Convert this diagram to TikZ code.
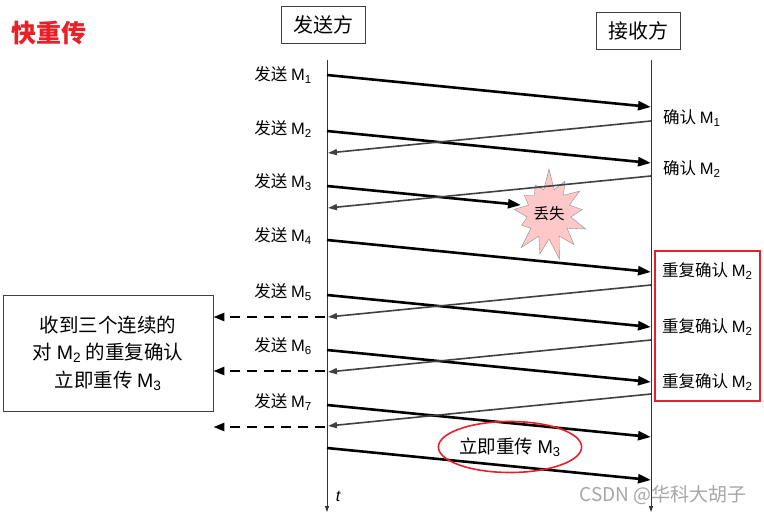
\documentclass[tikz,border=0pt]{standalone}
\usepackage{fontspec}
\setmainfont{Noto Sans CJK SC}
\newfontfamily\arial{Liberation Sans}
\usetikzlibrary{arrows.meta,shapes.geometric,shapes.symbols}
\definecolor{alarm}{HTML}{E8202A}
\definecolor{lostpink}{HTML}{FFC8C8}
\newcommand{\msg}[1]{{\arial M\textsubscript{#1}}}

\begin{document}
\begin{tikzpicture}[x=1pt, y=-1pt,
  party/.style={draw=black!75, thick, minimum width=84pt, minimum height=37pt, font=\fontsize{20}{24}\selectfont},
  life/.style={black!80, line width=0.9pt, -{Triangle[length=6pt,width=4pt]}},
  send/.style={line width=2.6pt, -{Triangle[length=13pt,width=9pt]}},
  ack/.style={black!75, line width=1.6pt, -{Triangle[length=9pt,width=6pt]}},
  relay/.style={line width=2.4pt, dash pattern=on 10pt off 7pt, -{Triangle[length=11pt,width=8pt]}},
  lbl/.style={font=\fontsize{16.5}{19}\selectfont, inner sep=0pt}]
  \useasboundingbox (0,0) rectangle (764,516);

  \node[alarm, font=\fontsize{25}{28}\selectfont\bfseries, anchor=west, inner sep=0pt] (title) at (11,33) {快重传};
  \node[party] (sender) at (323,25) {发送方};
  \node[party] (receiver) at (638,31) {接收方};

  \coordinate (stop) at (327,60);
  \coordinate (sbot) at (327,512);
  \coordinate (rtop) at (651,60);
  \coordinate (rbot) at (651,512);
  \draw[life] (stop) -- (sbot);
  \draw[life] (rtop) -- (rbot);
  \node[font=\fontsize{16}{18}\selectfont\arial\itshape] (time) at (338,496) {t};

  % sent segments
  \coordinate (s1) at (327,75);  \coordinate (r1) at (651,107);
  \coordinate (s2) at (327,131); \coordinate (r2) at (651,163);
  \coordinate (s3) at (327,186); \coordinate (r3) at (521,205);
  \coordinate (s4) at (327,240); \coordinate (r4) at (651,272);
  \coordinate (s5) at (327,295); \coordinate (r5) at (651,327);
  \coordinate (s6) at (327,350); \coordinate (r6) at (651,382);
  \coordinate (s7) at (327,405); \coordinate (r7) at (651,437);
  \coordinate (s8) at (327,448); \coordinate (r8) at (651,480);

  \node[lbl, anchor=east] (l1) at (312,75)  {发送 \msg{1}};
  \node[lbl, anchor=east] (l2) at (312,129) {发送 \msg{2}};
  \node[lbl, anchor=east] (l3) at (312,182) {发送 \msg{3}};
  \node[lbl, anchor=east] (l4) at (312,236) {发送 \msg{4}};
  \node[lbl, anchor=east] (l5) at (312,292) {发送 \msg{5}};
  \node[lbl, anchor=east] (l6) at (312,346) {发送 \msg{6}};
  \node[lbl, anchor=east] (l7) at (312,402) {发送 \msg{7}};

  \node[starburst, starburst points=13, starburst point height=22pt, random starburst=7,
    draw=black!45, fill=lostpink, minimum width=50pt, minimum height=94pt, inner sep=0pt,
    font=\fontsize{15.5}{18}\selectfont] (lost) at (549,214) {丢失};

  \draw[send] (s1) -- (r1);
  \draw[send] (s2) -- (r2);
  \draw[send] (s3) -- (r3);
  \draw[send] (s4) -- (r4);
  \draw[send] (s5) -- (r5);
  \draw[send] (s6) -- (r6);
  \draw[send] (s7) -- (r7);
  \draw[send] (s8) -- (r8);

  % acknowledgements
  \coordinate (a1) at (651,121); \coordinate (b1) at (328,153);
  \coordinate (a2) at (651,176); \coordinate (b2) at (328,208);
  \coordinate (a3) at (651,285); \coordinate (b3) at (328,317);
  \coordinate (a4) at (651,340); \coordinate (b4) at (328,372);
  \coordinate (a5) at (651,394); \coordinate (b5) at (328,426);
  \draw[ack] (a1) -- (b1);
  \draw[ack] (a2) -- (b2);
  \draw[ack] (a3) -- (b3);
  \draw[ack] (a4) -- (b4);
  \draw[ack] (a5) -- (b5);

  \node[lbl, anchor=west] (k1) at (663,118) {确认 \msg{1}};
  \node[lbl, anchor=west] (k2) at (663,169) {确认 \msg{2}};
  \node[lbl, anchor=west] (d1) at (662,271) {重复确认 \msg{2}};
  \node[lbl, anchor=west] (d2) at (662,327) {重复确认 \msg{2}};
  \node[lbl, anchor=west] (d3) at (662,382) {重复确认 \msg{2}};
  \draw[alarm, line width=1.8pt] (655,251) rectangle (760,401);

  \node[draw=black!75, thick, minimum width=210pt, minimum height=116pt, align=center,
    font=\fontsize{19.5}{27.5}\selectfont] (rule) at (108,353)
    {收到三个连续的\\对 \msg{2} 的重复确认\\立即重传 \msg{3}};
  \coordinate (t3) at (325,317);
  \coordinate (t4) at (325,371);
  \coordinate (t5) at (325,427);
  \draw[relay] (t3) -- (rule.east |- t3);
  \draw[relay] (t4) -- (rule.east |- t4);
  \draw[relay] (t5) -- (rule.east |- t5);

  \node[ellipse, draw=alarm, line width=1.6pt, minimum width=136pt, minimum height=51pt,
    inner sep=0pt, font=\fontsize{18.5}{20}\selectfont] (again) at (510,447) {立即重传 \msg{3}};

  \node[black!35, font=\fontsize{19}{20}\selectfont] (mark) at (663,495) {CSDN @华科大胡子};
\end{tikzpicture}
\end{document}
